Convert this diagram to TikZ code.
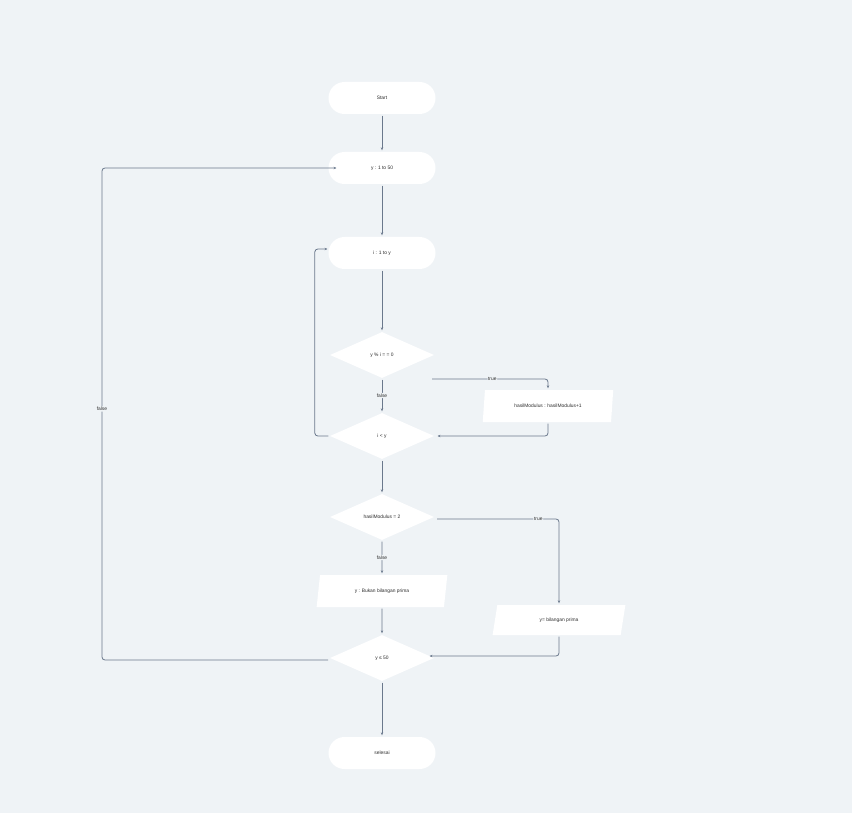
\documentclass[tikz,border=0pt]{standalone}
\usepackage{fontspec}
\setmainfont{Liberation Sans}
\usetikzlibrary{shapes.geometric,arrows.meta}
\definecolor{bg}{HTML}{EFF3F6}
\definecolor{ln}{HTML}{6A788C}
\definecolor{tx}{HTML}{2E2E2E}
\tikzset{
  x=1pt,y=-1pt,
  base/.style={fill=white,draw=none,text=tx,font=\fontsize{4.9}{5.5}\selectfont,inner sep=0pt},
  term/.style={base,rounded corners=16pt,minimum width=107pt,minimum height=32pt},
  dec/.style={base,diamond,aspect=2.26,minimum width=104pt,minimum height=46pt},
  io/.style={base,trapezium,trapezium left angle=72,trapezium right angle=108,minimum width=131pt,minimum height=32pt,trapezium stretches=true},
  conn/.style={draw=ln,line width=0.8pt,rounded corners=3pt,shorten >=1.5pt,shorten <=1.5pt,-{Stealth[length=3pt,width=2.4pt]}},
  lbl/.style={fill=bg,text=tx,font=\fontsize{4.9}{5.5}\selectfont,inner sep=0.8pt}
}
\begin{document}
\begin{tikzpicture}
\fill[bg] (0,0) rectangle (852,813);
\useasboundingbox (0,0) rectangle (852,813);
\node[term] (start) at (382,98) {Start};
\node[term] (yloop) at (382,168) {y : 1 to 50};
\node[term] (iloop) at (382,253) {i : 1 to y};
\node[dec] (d1) at (382,355) {y \% i = = 0};
\node[dec] (d2) at (382,436) {i < y};
\node[io] (hasil) at (548,406) {hasilModulus : hasilModulus+1};
\node[dec] (d3) at (382,517) {hasilModulus = 2};
\node[io] (bukan) at (382,591) {y : Bukan bilangan prima};
\node[io,minimum width=133pt,minimum height=30pt] (prima) at (559,620) {y= bilangan prima};
\node[dec] (d4) at (382,658) {y ≤ 50};
\node[term] (end) at (382,753) {selesai};

\coordinate (c1) at (432,379);
\coordinate (c2) at (437,519);
\coordinate (t2) at (436,436);
\coordinate (t4) at (428,656);
\coordinate (s4) at (328,660);
\coordinate (ti) at (329,249);
\coordinate (ty) at (338,168);
\draw[conn] (start.south) -- (yloop.north);
\draw[conn] (yloop.south) -- (iloop.north);
\draw[conn] (iloop.south) -- (d1.north);
\draw[conn] (d1.south) -- node[lbl]{false} (d2.north);
\draw[conn,shorten <=0pt] (c1) -- node[lbl,pos=0.52]{true} (c1 -| hasil.north) -- (hasil.north);
\draw[conn] (hasil.south) |- (t2);
\draw[conn] (d2.west) -- ++(-15,0) |- (ti);
\draw[conn] (d2.south) -- (d3.north);
\draw[conn] (d3.south) -- node[lbl]{false} (bukan.north);
\draw[conn,shorten <=0pt] (c2) -- node[lbl,pos=0.83]{true} (c2 -| prima.north) -- (prima.north);
\draw[conn] (bukan.south) -- (d4.north);
\draw[conn] (prima.south) |- (t4);
\draw[conn,shorten <=0pt] (s4) -- (102,660) -- node[lbl,pos=0.51]{false} (102,168) -- (ty);
\draw[conn] (d4.south) -- (end.north);
\end{tikzpicture}
\end{document}
